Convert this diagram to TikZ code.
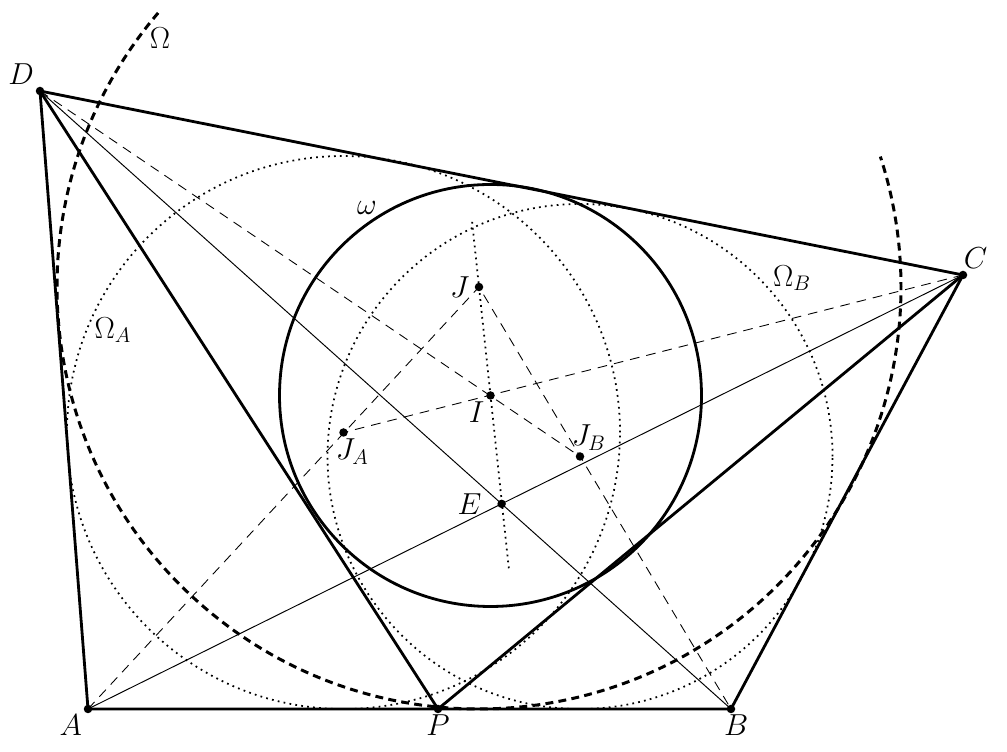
\documentclass[tikz,border=0pt]{standalone}
\usetikzlibrary{calc}
\begin{document}
\begin{tikzpicture}[font=\LARGE,
    side/.style={line width=1.6pt},
    diag/.style={line width=0.55pt},
    aux/.style={line width=0.5pt, dash pattern=on 5.5pt off 4pt},
    circ/.style={line width=1pt, dash pattern=on 1pt off 2.4pt},
    bigcirc/.style={line width=1.7pt, dash pattern=on 4.5pt off 3pt}]
         \useasboundingbox (0,0) rectangle (20.14,15.04);
         \coordinate (A) at (1.76,0.86);
         \coordinate (P) at (8.76,0.86);
         \coordinate (B) at (14.62,0.86);
         \coordinate (C) at (19.26,9.54);
         \coordinate (D) at (0.80,13.22);
         \coordinate (I) at (9.81,7.13);
         \coordinate (J) at (9.58,9.30);
         \coordinate (JA) at (6.87,6.39);
         \coordinate (JB) at (11.60,5.91);
         \coordinate (E) at (intersection of A--C and B--D);

         \draw[side] (I) circle (4.22);
         \draw[circ] (JA) circle (5.53);
         \draw[circ] (JB) circle (5.05);
         \draw[bigcirc] (J) ++(139.5:8.44) arc (139.5:378:8.44);

         \draw[side] (A) -- (B) -- (C) -- (D) -- cycle;
         \draw[side] (D) -- (P) -- (C);
         \draw[diag] (A) -- (C) (B) -- (D);
         \draw[aux] (A) -- (J) -- (B);
         \draw[aux] (D) -- (JB) (C) -- (JA);
         \draw[circ] ($(J)!-0.6!(I)$) -- ($(J)!2.6!(I)$);

         \foreach \p in {A,B,C,D,P,I,J,JA,JB,E}
             \fill (\p) circle (0.085);

         \node (lA) at (A) [below left] {$A$};
         \node (lB) at (B) [below, xshift=3pt] {$B$};
         \node (lC) at (C) [above right, xshift=-3pt] {$C$};
         \node (lD) at (D) [above left] {$D$};
         \node (lP) at (P) [below] {$P$};
         \node (lI) at (I) [below left] {$I$};
         \node (lJ) at (J) [left=2pt] {$J$};
         \node (lJA) at (JA) [below, xshift=5pt] {$J_A$};
         \node (lJB) at (JB) [above, xshift=5pt] {$J_B$};
         \node (lE) at (E) [left=8pt] {$E$};

         \node (lomega) at (7.34,10.88) {$\omega$};
         \node (lOmega) at (3.20,14.28) {$\Omega$};
         \node (lOmegaA) at (2.26,8.44) {$\Omega_A$};
         \node (lOmegaB) at (15.84,9.48) {$\Omega_B$};
         \end{tikzpicture}
\end{document}
